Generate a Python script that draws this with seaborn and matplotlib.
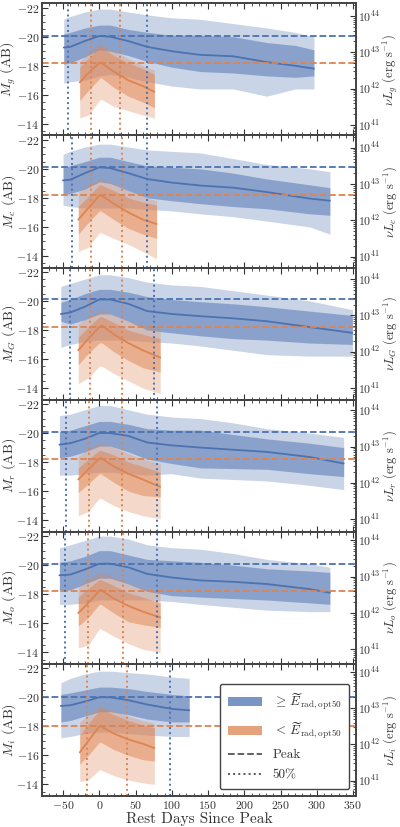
import numpy as np
import matplotlib
matplotlib.use("Agg")
import matplotlib.pyplot as plt
import matplotlib.ticker as mticker
from matplotlib.patches import Patch
from matplotlib.lines import Line2D
import seaborn as sns

BANDS = ["g", "c", "G", "r", "o", "i"]
# M_AB at which nu*L = 1e44 erg/s, per band
L44_MAG = [-21.42, -21.45, -21.5, -21.57, -21.7, -21.75]

# bright group (>= median E_rad): time knots, median, inner and outer bands
BLUE_T = [
    [-49, -40, -20, 0, 15, 40, 66, 100, 139, 185, 231, 270, 296],
    [-50, -40, -20, 0, 15, 40, 66, 100, 139, 185, 231, 290, 318],
    [-53, -40, -20, 0, 15, 40, 66, 100, 139, 185, 231, 290, 349],
    [-55, -40, -20, 0, 15, 40, 66, 100, 139, 185, 231, 290, 337],
    [-55, -40, -20, 0, 15, 40, 66, 100, 139, 185, 231, 290, 318],
    [-53, -40, -20, 0, 15, 40, 66, 100, 124],
]
BLUE_MED = [
    [-19.25, -19.3, -19.7, -20.05, -20.0, -19.7, -19.3, -19.0, -18.75, -18.65, -18.25, -18.0, -17.8],
    [-19.2, -19.25, -19.7, -20.1, -20.05, -19.7, -19.3, -19.05, -18.85, -18.7, -18.4, -17.95, -17.8],
    [-19.1, -19.2, -19.6, -20.1, -20.1, -19.8, -19.3, -19.1, -18.95, -18.8, -18.6, -18.2, -17.8],
    [-19.2, -19.3, -19.6, -20.0, -20.0, -19.8, -19.35, -19.15, -19.0, -18.85, -18.7, -18.35, -17.9],
    [-19.3, -19.35, -19.7, -20.1, -20.1, -19.85, -19.4, -19.15, -18.95, -18.85, -18.7, -18.35, -18.1],
    [-19.4, -19.45, -19.7, -20.0, -20.0, -19.8, -19.5, -19.2, -19.1],
]
BLUE_IN_HI = [
    [-20.2, -20.3, -20.6, -20.8, -20.8, -20.5, -20.3, -20.1, -20.1, -20.0, -19.6, -19.4, -19.1],
    [-20.1, -20.2, -20.5, -20.8, -20.8, -20.5, -20.2, -20.1, -20.0, -19.7, -19.3, -18.9, -18.7],
    [-19.9, -20.1, -20.5, -20.8, -20.8, -20.6, -20.3, -20.1, -19.95, -19.8, -19.6, -19.3, -19.0],
    [-20.1, -20.2, -20.5, -20.8, -20.8, -20.6, -20.3, -20.2, -20.2, -19.9, -19.6, -19.3, -19.0],
    [-20.2, -20.3, -20.6, -21.0, -21.0, -20.7, -20.4, -20.3, -20.2, -20.0, -19.75, -19.6, -19.5],
    [-20.2, -20.3, -20.5, -20.7, -20.7, -20.6, -20.4, -20.2, -20.1],
]
BLUE_IN_LO = [
    [-18.1, -18.2, -18.6, -19.1, -19.0, -18.7, -18.3, -17.9, -17.6, -17.5, -17.3, -17.2, -17.3],
    [-18.2, -18.3, -18.6, -19.1, -19.0, -18.5, -18.0, -17.8, -17.6, -17.4, -17.25, -16.9, -16.8],
    [-18.6, -18.4, -18.7, -19.1, -19.1, -18.6, -18.0, -17.8, -17.6, -17.4, -17.3, -17.1, -17.0],
    [-18.3, -18.4, -18.7, -19.1, -19.1, -18.7, -18.2, -17.9, -17.6, -17.55, -17.5, -17.2, -17.0],
    [-18.2, -18.3, -18.7, -19.1, -19.1, -18.7, -18.2, -17.9, -17.8, -17.7, -17.6, -17.4, -17.3],
    [-18.3, -18.4, -18.7, -19.0, -19.0, -18.8, -18.5, -18.3, -18.3],
]
BLUE_OUT_HI = [
    [-21.2, -21.4, -21.7, -21.9, -21.9, -21.7, -21.5, -21.3, -21.2, -20.9, -20.6, -20.3, -20.0],
    [-21.0, -21.2, -21.5, -21.7, -21.7, -21.5, -21.3, -21.2, -21.1, -20.7, -20.3, -20.0, -19.8],
    [-21.0, -21.2, -21.5, -21.8, -21.8, -21.6, -21.3, -21.1, -21.0, -20.7, -20.4, -20.0, -19.4],
    [-21.2, -21.3, -21.6, -21.9, -21.9, -21.6, -21.3, -21.1, -21.0, -20.7, -20.3, -20.0, -19.7],
    [-21.2, -21.4, -21.7, -22.0, -22.0, -21.8, -21.4, -21.2, -21.1, -20.8, -20.4, -20.1, -19.85],
    [-21.0, -21.3, -21.6, -21.8, -21.8, -21.7, -21.6, -21.4, -21.3],
]
BLUE_OUT_LO = [
    [-16.8, -16.9, -17.0, -17.3, -17.4, -17.2, -16.9, -16.6, -16.4, -16.4, -15.9, -16.4, -16.4],
    [-17.5, -17.4, -17.3, -17.3, -17.3, -17.3, -17.2, -17.1, -16.9, -16.7, -16.4, -16.0, -15.5],
    [-16.8, -17.0, -17.2, -17.3, -17.3, -17.3, -17.2, -17.1, -16.9, -16.6, -16.3, -16.2, -16.2],
    [-17.1, -17.1, -17.2, -17.3, -17.3, -17.2, -17.1, -17.2, -16.9, -16.8, -16.7, -16.4, -16.1],
    [-17.3, -17.3, -17.4, -17.6, -17.6, -17.6, -17.6, -17.5, -17.3, -17.1, -16.9, -16.8, -16.8],
    [-17.2, -17.3, -17.5, -17.6, -17.6, -17.5, -17.4, -17.3, -17.3],
]

# faint group (< median E_rad)
ORANGE_T = [
    [-27, -15, 0, 2, 20, 40, 60, 76],
    [-29, -15, 0, 2, 20, 40, 60, 79],
    [-29, -15, 0, 4, 20, 40, 60, 84],
    [-29, -15, 0, 2, 20, 40, 60, 84],
    [-29, -15, 0, 2, 20, 40, 60, 84],
    [-27, -15, 0, 2, 20, 40, 60, 76],
]
ORANGE_MED = [
    [-16.85, -17.5, -18.2, -18.23, -17.6, -17.0, -16.6, -16.2],
    [-16.5, -17.3, -18.15, -18.2, -17.6, -17.0, -16.5, -16.2],
    [-16.6, -17.4, -18.2, -18.3, -17.7, -17.1, -16.6, -16.1],
    [-16.8, -17.5, -18.25, -18.3, -17.7, -17.2, -16.8, -16.3],
    [-16.7, -17.4, -18.25, -18.3, -17.7, -17.2, -16.8, -16.4],
    [-16.2, -17.0, -18.0, -18.0, -17.5, -17.1, -16.8, -16.5],
]
ORANGE_IN_HI = [
    [-17.9, -18.5, -19.3, -19.3, -18.7, -18.2, -17.8, -17.4],
    [-17.4, -18.1, -18.9, -18.9, -18.5, -18.0, -17.7, -17.5],
    [-17.5, -18.2, -18.9, -18.9, -18.5, -18.0, -17.7, -17.4],
    [-17.6, -18.2, -18.8, -18.8, -18.5, -18.0, -17.7, -17.3],
    [-17.8, -18.4, -19.0, -19.0, -18.6, -18.1, -17.8, -17.4],
    [-17.4, -18.2, -19.1, -19.2, -18.8, -18.4, -18.1, -17.9],
]
ORANGE_IN_LO = [
    [-15.6, -16.3, -17.1, -17.2, -16.5, -15.9, -15.5, -15.1],
    [-15.5, -16.3, -17.1, -17.1, -16.5, -15.9, -15.5, -15.2],
    [-15.6, -16.4, -17.1, -17.1, -16.5, -15.9, -15.4, -15.1],
    [-15.9, -16.5, -17.2, -17.2, -16.6, -16.0, -15.7, -15.6],
    [-15.8, -16.4, -17.3, -17.3, -16.7, -16.1, -15.9, -15.7],
    [-15.4, -16.0, -16.9, -16.9, -16.4, -16.0, -15.7, -15.6],
]
ORANGE_OUT_HI = [
    [-18.3, -18.9, -19.5, -19.5, -19.0, -18.5, -18.0, -17.7],
    [-18.4, -18.9, -19.3, -19.3, -19.0, -18.5, -18.1, -17.8],
    [-18.4, -18.9, -19.35, -19.35, -19.0, -18.6, -18.3, -18.1],
    [-18.4, -18.9, -19.3, -19.3, -19.0, -18.6, -18.2, -17.9],
    [-18.6, -19.0, -19.5, -19.5, -19.2, -18.7, -18.4, -18.2],
    [-18.3, -18.8, -19.4, -19.4, -19.1, -18.7, -18.4, -18.2],
]
ORANGE_OUT_LO = [
    [-14.4, -14.6, -15.6, -15.7, -15.2, -14.9, -14.6, -14.4],
    [-14.3, -14.6, -15.6, -15.6, -15.2, -14.8, -14.3, -13.8],
    [-14.3, -14.7, -15.5, -15.5, -15.0, -14.5, -14.0, -13.6],
    [-14.3, -14.6, -15.5, -15.5, -15.0, -14.6, -14.3, -14.1],
    [-14.3, -14.5, -15.6, -15.6, -15.1, -14.6, -14.2, -14.0],
    [-14.2, -14.3, -15.0, -15.0, -14.6, -14.3, -14.1, -14.0],
]

BLUE_PEAK = [-20.05, -20.1, -20.1, -20.05, -20.1, -20.0]
ORANGE_PEAK = [-18.2, -18.2, -18.2, -18.2, -18.2, -18.05]
BLUE_HALF = [[-43, 66], [-38, 66], [-40, 76], [-46, 79], [-47, 79], [97]]
ORANGE_HALF = [[-12, 29], [-12, 31], [-13, 31], [-14, 32], [-16, 33], [-17, 38]]

BLUE = "#4C72B0"
ORANGE = "#DD8452"
TXT = "#333333"

sns.set_theme(style="ticks")
plt.rcParams.update({
    "font.family": "serif",
    "font.serif": ["cmr10", "DejaVu Serif"],
    "mathtext.fontset": "cm",
    "axes.unicode_minus": False,
    "axes.formatter.use_mathtext": True,
    "text.color": TXT,
    "axes.labelcolor": TXT,
    "xtick.color": TXT,
    "ytick.color": TXT,
    "axes.edgecolor": "#444444",
    "xtick.direction": "in",
    "ytick.direction": "in",
})


def mag_fmt(v, pos):
    return r"$\mathdefault{%d}$" % int(round(v))


def draw_group(ax, t, med, in_lo, in_hi, out_lo, out_hi, color):
    ax.fill_between(t, out_lo, out_hi, color=color, alpha=0.3, lw=0)
    ax.fill_between(t, in_lo, in_hi, color=color, alpha=0.5, lw=0)
    sns.lineplot(x=t, y=med, color=color, lw=1.3, ax=ax)


fig, axes = plt.subplots(6, 1, figsize=(4, 8.27), dpi=100, sharex=True)
fig.subplots_adjust(left=0.105, right=0.89, top=0.996, bottom=0.0375, hspace=0)

ylo, yhi = -13.2, -22.3
for k, ax in enumerate(axes):
    draw_group(ax, BLUE_T[k], BLUE_MED[k], BLUE_IN_LO[k], BLUE_IN_HI[k],
               BLUE_OUT_LO[k], BLUE_OUT_HI[k], BLUE)
    draw_group(ax, ORANGE_T[k], ORANGE_MED[k], ORANGE_IN_LO[k], ORANGE_IN_HI[k],
               ORANGE_OUT_LO[k], ORANGE_OUT_HI[k], ORANGE)

    ax.axhline(BLUE_PEAK[k], color=BLUE, ls="--", lw=1.3)
    ax.axhline(ORANGE_PEAK[k], color=ORANGE, ls="--", lw=1.3)
    for v in BLUE_HALF[k]:
        ax.axvline(v, color=BLUE, ls=":", lw=1.4)
    for v in ORANGE_HALF[k]:
        ax.axvline(v, color=ORANGE, ls=":", lw=1.4)

    ax.set_xlim(-79, 354)
    ax.set_ylim(ylo, yhi)
    ax.yaxis.set_major_locator(mticker.MultipleLocator(2))
    ax.yaxis.set_minor_locator(mticker.MultipleLocator(0.5))
    ax.yaxis.set_major_formatter(mticker.FuncFormatter(mag_fmt))
    ax.xaxis.set_major_locator(mticker.MultipleLocator(50))
    ax.xaxis.set_minor_locator(mticker.MultipleLocator(10))
    ax.xaxis.set_major_formatter(mticker.FuncFormatter(mag_fmt))
    ax.tick_params(which="both", top=True, right=False, labelsize=8.5, pad=2)
    ax.tick_params(which="major", length=4, width=0.8)
    ax.tick_params(which="minor", length=2, width=0.6)
    ax.set_ylabel(r"$M_%s$ (AB)" % BANDS[k], fontsize=10)
    ax.yaxis.set_label_coords(-0.075, 0.5)

    off = L44_MAG[k]
    ax2 = ax.twinx()
    ax2.set_yscale("log")
    ax2.set_ylim(10 ** (44 - 0.4 * (ylo - off)), 10 ** (44 - 0.4 * (yhi - off)))
    ax2.yaxis.set_major_locator(mticker.LogLocator(base=10, numticks=10))
    ax2.yaxis.set_minor_locator(mticker.LogLocator(base=10, subs=np.arange(2, 10), numticks=10))
    ax2.tick_params(which="both", labelsize=8.5, pad=1.5)
    ax2.tick_params(which="major", length=4, width=0.8)
    ax2.tick_params(which="minor", length=2, width=0.6)
    ax2.set_ylabel(r"$\nu L_%s$ (erg s$^{-1}$)" % BANDS[k], fontsize=9)
    ax2.yaxis.set_label_coords(1.08, 0.5)
    for sp in ax2.spines.values():
        sp.set_edgecolor("#444444")

axes[-1].set_xlabel("Rest Days Since Peak", fontsize=11, labelpad=1)

handles = [
    Patch(facecolor=BLUE, alpha=0.75, edgecolor="none"),
    Patch(facecolor=ORANGE, alpha=0.75, edgecolor="none"),
    Line2D([0], [0], color="#555555", ls="--", lw=1.3),
    Line2D([0], [0], color="#555555", ls=":", lw=1.4),
]
labels = [r"$\geq\,\widetilde{E}_{\rm rad,opt50}$", r"$<\,\widetilde{E}_{\rm rad,opt50}$",
          "Peak", "50%"]
leg = axes[-1].legend(handles, labels, loc="lower right", fontsize=9.5,
                      frameon=True, framealpha=1, edgecolor="#444444",
                      fancybox=True, handlelength=2.6, borderpad=0.6,
                      labelspacing=0.6)
leg.set_zorder(10)
leg.get_frame().set_linewidth(1.0)

fig.savefig("out.png", dpi=100)
